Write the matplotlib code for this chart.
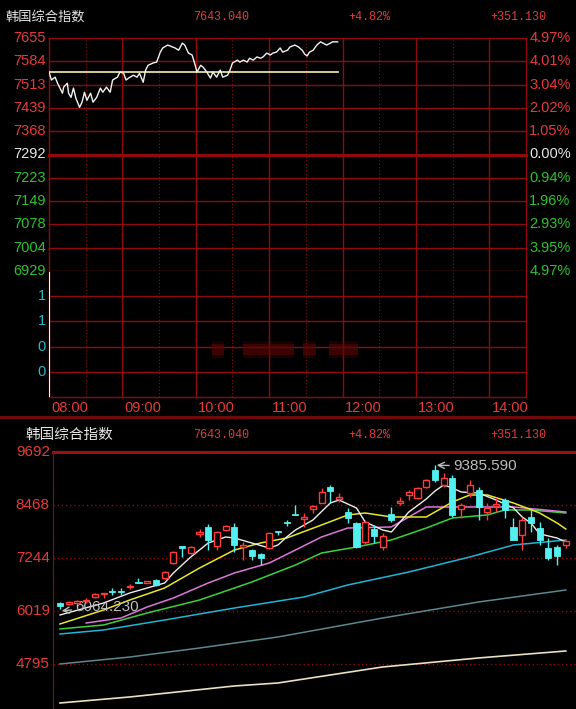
import numpy as np
import matplotlib.pyplot as plt
from matplotlib.patches import Rectangle
from matplotlib.lines import Line2D

### Data ###

title = '韩国综合指数'
last_price = '7643.040'
change_pct = '+4.82%'
change_pts = '+351.130'

price_labels = ['7655', '7584', '7513', '7439', '7368', '7292', '7223', '7149', '7078', '7004', '6929']
pct_labels = ['4.97%', '4.01%', '3.04%', '2.02%', '1.05%', '0.00%', '0.94%', '1.96%', '2.93%', '3.95%', '4.97%']
vol_labels = ['1', '1', '0', '0']
time_labels = ['08:00', '09:00', '10:00', '11:00', '12:00', '13:00', '14:00']

# intraday: minutes after 08:00 and index value
tick_min = [0, 2, 5, 7, 11, 12, 15, 16, 18, 20, 22, 25, 27, 29, 31, 34, 36, 39, 42, 44,
            47, 50, 52, 56, 58, 61, 63, 65, 69, 72, 74, 77, 79, 81, 85, 88, 91, 93, 97, 101,
            103, 106, 109, 111, 114, 117, 119, 121, 124, 126, 129, 132, 134, 137, 140, 142, 146, 148, 150, 154,
            156, 159, 162, 164, 167, 170, 173, 175, 178, 181, 183, 186, 189, 191, 195, 197, 201, 204, 207, 209,
            211, 213, 216, 219, 222, 224, 227, 230, 232, 236]
tick_price = [7549, 7524, 7533, 7514, 7483, 7502, 7514, 7483, 7470, 7499,
              7467, 7439, 7455, 7486, 7461, 7483, 7455, 7470, 7499, 7486,
              7502, 7486, 7524, 7533, 7549, 7545, 7524, 7530, 7539, 7533,
              7545, 7517, 7555, 7570, 7577, 7580, 7611, 7624, 7633, 7627,
              7624, 7617, 7639, 7633, 7608, 7602, 7577, 7549, 7570, 7564,
              7549, 7530, 7549, 7533, 7555, 7533, 7539, 7555, 7577, 7586,
              7580, 7586, 7580, 7592, 7586, 7596, 7592, 7596, 7608, 7602,
              7608, 7611, 7624, 7611, 7617, 7627, 7633, 7627, 7617, 7605,
              7599, 7611, 7617, 7633, 7643, 7639, 7633, 7639, 7643, 7643]
avg_min = [0, 236]
avg_price = [7548, 7548]

# smudged volume marks (start minute, length)
vol_blur = [(133, 10), (159, 41), (208, 10), (229, 24)]

# daily candles
opens = [6204, 6181, 6204, 6250, 6343, 6412, 6481, 6481, 6574, 6689,
         6666, 6735, 6781, 7128, 7521, 7359, 7798, 7960, 7521, 7890,
         7960, 7498, 7428, 7336, 7474, 7867, 8075, 8260, 8144, 8375,
         8514, 8884, 8606, 8306, 8052, 7613, 7913, 7498, 8260, 8514,
         8699, 8629, 8884, 9276, 8930, 9091, 8375, 8745, 8814, 8306,
         8445, 8583, 7960, 7775, 8191, 7936, 7474, 7498, 7544]
closes = [6135, 6227, 6250, 6273, 6412, 6435, 6458, 6458, 6597, 6666,
          6712, 6620, 6920, 7382, 7474, 7498, 7844, 7659, 7844, 7983,
          7544, 7544, 7290, 7243, 7821, 7844, 8052, 8237, 8191, 8445,
          8768, 8791, 8653, 8167, 7498, 8075, 7752, 7752, 8121, 8560,
          8768, 8860, 9045, 9045, 9091, 8237, 8468, 8930, 8422, 8398,
          8491, 8352, 7659, 8121, 8052, 7659, 7243, 7292, 7643.04]
highs = [6227, 6250, 6273, 6319, 6435, 6435, 6550, 6550, 6643, 6781,
         6712, 6758, 6943, 7405, 7521, 7521, 7913, 8029, 7867, 8006,
         8052, 7613, 7451, 7359, 7844, 7867, 8121, 8468, 8283, 8468,
         8860, 8930, 8745, 8398, 8075, 8121, 8006, 7821, 8422, 8653,
         8814, 8884, 9068, 9385.59, 9207, 9161, 8514, 9045, 8884, 8514,
         8653, 8629, 8167, 8191, 8352, 8075, 7705, 7544, 7659]
lows = [6064.23, 6158, 6181, 6204, 6319, 6319, 6389, 6389, 6527, 6666,
        6666, 6597, 6758, 7105, 7267, 7336, 7729, 7428, 7428, 7867,
        7382, 7197, 7197, 7082, 7451, 7775, 7983, 8237, 7960, 8283,
        8514, 8514, 8537, 8052, 7474, 7567, 7590, 7428, 8075, 8468,
        8583, 8606, 8860, 8999, 8884, 8191, 8167, 8653, 8121, 8121,
        8306, 8167, 7659, 7428, 7844, 7544, 7197, 7082, 7474]

day_labels = ['9692', '8468', '7244', '6019', '4795']
day_levels = [9692, 8468, 7244, 6019, 4795]

# moving averages (candle index, value)
ma5_idx = [0, 5, 8, 12, 13, 15, 17, 19, 20, 22, 24, 25, 26, 27, 29, 31, 32, 34, 35, 37,
           38, 39, 40, 42, 43, 44, 45, 46, 48, 50, 52, 53, 54, 55, 57, 58]
ma5_val = [5927, 6204, 6435, 6666, 6897, 7267, 7590, 7729, 7705, 7590, 7474, 7544, 7729, 7890, 8121, 8514, 8583, 8398, 8075, 7890,
           7844, 8075, 8306, 8606, 8791, 8930, 8860, 8768, 8745, 8583, 8400, 8191, 8052, 7800, 7705, 7613]
ma10_idx = [0, 5, 8, 12, 16, 20, 23, 26, 30, 33, 35, 38, 42, 45, 47, 49, 52, 55, 56, 57, 58]
ma10_val = [5719, 6042, 6273, 6550, 7012, 7428, 7590, 7705, 8006, 8237, 8283, 8191, 8191, 8537, 8699, 8699, 8514, 8283, 8167, 8052, 7913]
ma20_idx = [3, 7, 10, 13, 17, 20, 24, 27, 30, 33, 38, 42, 52, 58]
ma20_val = [5742, 5857, 6112, 6319, 6666, 6897, 7128, 7428, 7729, 7936, 7960, 8422, 8422, 8306]
ma30_idx = [0, 5, 10, 16, 22, 27, 30, 34, 38, 42, 45, 49, 51, 54, 58]
ma30_val = [5604, 5696, 5973, 6273, 6689, 7082, 7359, 7498, 7659, 7936, 8167, 8237, 8352, 8352, 8283]
ma60_idx = [0, 5, 12, 20, 28, 33, 40, 47, 52, 58]
ma60_val = [5488, 5580, 5811, 6088, 6343, 6620, 6920, 7267, 7544, 7659]
ma120_idx = [0, 8, 16, 25, 37, 48, 58]
ma120_val = [4795, 4956, 5164, 5419, 5857, 6227, 6504]
ma250_idx = [0, 8, 20, 25, 37, 48, 58]
ma250_val = [3894, 4033, 4287, 4356, 4726, 4934, 5095]

### Drawing ###

W, H = 576, 709
GRID = '#8f0b0b'
RED = '#e83a3a'
GREEN = '#2ec22e'
WHITE = '#e6e6e6'
CYAN_TXT = '#2ab7c9'
UP = '#ff3c3c'
DOWN = '#54f0f0'
NUM = 'Liberation Sans'
MONO = 'Liberation Mono'
CJK = 'Noto Sans CJK SC'

fig = plt.figure(figsize=(W / 100, H / 100), dpi=100, facecolor='black')


def box(x0, y0, x1, y1):
  ax = fig.add_axes([x0 / W, 1 - y1 / H, (x1 - x0) / W, (y1 - y0) / H])
  ax.set_facecolor('black')
  for s in ax.spines.values():
    s.set_visible(False)
  ax.set_xticks([])
  ax.set_yticks([])
  return ax


def ftext(x, y, s, **kw):
  fig.text(x / W, 1 - y / H, s, va='center', **kw)


def header(y, x_title, size):
  ftext(x_title, y, title, color=WHITE, fontsize=size, family=[CJK, 'DejaVu Sans'])
  ftext(193, y, last_price, color=RED, fontsize=8.5, family=MONO)
  ftext(348, y, change_pct, color=RED, fontsize=8.5, family=MONO)
  ftext(490, y, change_pts, color=RED, fontsize=8.5, family=MONO)


def time_grid(ax):
  for m in range(0, 391, 60):
    ax.axvline(m, color=GRID, lw=1, zorder=1, clip_on=False)
  ax.axvline(390, color=GRID, lw=1, zorder=1, clip_on=False)
  for m in range(30, 390, 60):
    ax.axvline(m, color=GRID, lw=0.8, ls=(0, (1, 2)), zorder=1)


# --- intraday price panel ---
header(17, 5, 9.5)
ax1 = box(49, 38, 526, 271)
ax1.set_xlim(0, 390)
ax1.set_ylim(6929, 7655)
levels = np.linspace(7655, 6929, len(price_labels))
time_grid(ax1)
for k, lv in enumerate(levels):
  ax1.axhline(lv, color=GRID, lw=2.2 if k == 5 else 1, zorder=1, clip_on=False)
  col = RED if k < 5 else (WHITE if k == 5 else GREEN)
  ax1.text(-0.007, lv, price_labels[k], transform=ax1.get_yaxis_transform(),
           ha='right', va='center', color=col, fontsize=10.5, family=NUM)
  ax1.text(1.007, lv, pct_labels[k], transform=ax1.get_yaxis_transform(),
           ha='left', va='center', color=col, fontsize=10.5, family=NUM)
ax1.plot(avg_min, avg_price, color='#e0e0a0', lw=1.3, zorder=3)
ax1.plot(tick_min, tick_price, color='#f2f2f2', lw=1, zorder=4)

# --- intraday volume panel ---
ax2 = box(49, 271, 526, 397)
ax2.set_xlim(0, 390)
ax2.set_ylim(0, 5)
time_grid(ax2)
for k in range(0, 5):
  ax2.axhline(k, color=GRID, lw=1, zorder=1, clip_on=False)
for k, lab in enumerate(vol_labels):
  ax2.text(-0.007, 4 - k, lab, transform=ax2.get_yaxis_transform(),
           ha='right', va='center', color=CYAN_TXT, fontsize=10.5, family=NUM)
ax2.vlines(0.4, 0, 4.95, color='white', lw=1.5, zorder=3)
# blurred marks: a few stacked translucent layers
for pad, alpha in [(0.12, 0.25), (0.0, 0.55)]:
  ax2.broken_barh(vol_blur, (1.65 - pad, 0.45 + 2 * pad), facecolors='#5c0606',
                  alpha=alpha, zorder=2, lw=0)
for k, lab in enumerate(time_labels):
  ax2.text(k * 60 + 2, -0.44, lab, ha='left', va='center', color=RED,
           fontsize=10.5, family=NUM)

fig.add_artist(Line2D([0, 1], [1 - 417 / H] * 2, color='#7a0808', lw=2))

# --- daily candlestick panel ---
header(435, 25, 10.5)
ax3 = box(53, 452, 576, 709)
ax3.set_xlim(-0.8, 59.17)
ax3.set_ylim(3755, 9692)
ax3.spines['left'].set_visible(True)
ax3.spines['left'].set_color(GRID)
ax3.axhline(9692, color='#a01010', lw=2.2, clip_on=False)
for lv, lab in zip(day_levels, day_labels):
  if lv != 9692:
    ax3.axhline(lv, color=GRID, lw=1, ls=(0, (1, 2)), zorder=1)
  ax3.text(-0.006, lv, lab, transform=ax3.get_yaxis_transform(), ha='right',
           va='center', color=RED, fontsize=11, family=NUM)

for ma_i, ma_v, col, lw in [
    (ma250_idx, ma250_val, '#e8e0c0', 1.2),
    (ma120_idx, ma120_val, '#5a8890', 1.1),
    (ma60_idx, ma60_val, '#22b4d4', 1.1),
    (ma30_idx, ma30_val, '#3cd23c', 1.1),
    (ma20_idx, ma20_val, '#dc78dc', 1.1),
    (ma10_idx, ma10_val, '#e6e62e', 1.1),
    (ma5_idx, ma5_val, '#ececec', 1.0)]:
  ax3.plot(ma_i, ma_v, color=col, lw=lw, zorder=2)

bw = 0.7
for i in range(len(opens)):
  o, c, hi, lo = opens[i], closes[i], highs[i], lows[i]
  top, bot = max(o, c), min(o, c)
  h = max(top - bot, 14)
  if c >= o:
    ax3.vlines(i, top, hi, color=UP, lw=1, zorder=4)
    ax3.vlines(i, lo, bot, color=UP, lw=1, zorder=4)
    ax3.add_patch(Rectangle((i - bw / 2, bot), bw, h, facecolor='black',
                            edgecolor=UP, lw=1, zorder=5))
  else:
    ax3.vlines(i, lo, hi, color=DOWN, lw=1, zorder=4)
    ax3.add_patch(Rectangle((i - bw / 2, bot), bw, h, facecolor=DOWN,
                            edgecolor=DOWN, lw=0.6, zorder=5))

hi_i = int(np.argmax(highs))
lo_i = int(np.argmin(lows))
ax3.annotate(f'{highs[hi_i]:.3f}', xy=(hi_i + 0.2, highs[hi_i]), xytext=(45.1, 9369),
             color='#bdbdbd', fontsize=11, family=NUM, va='center', ha='left',
             arrowprops=dict(arrowstyle='->', color='#bdbdbd', lw=1, shrinkA=1, shrinkB=0))
ax3.annotate(f'{lows[lo_i]:.3f}', xy=(lo_i + 0.2, lows[lo_i] - 40), xytext=(1.8, 6111),
             color='#bdbdbd', fontsize=11, family=NUM, va='center', ha='left',
             arrowprops=dict(arrowstyle='->', color='#bdbdbd', lw=1, shrinkA=1, shrinkB=0))

fig.savefig('out.png', dpi=100, facecolor='black')
